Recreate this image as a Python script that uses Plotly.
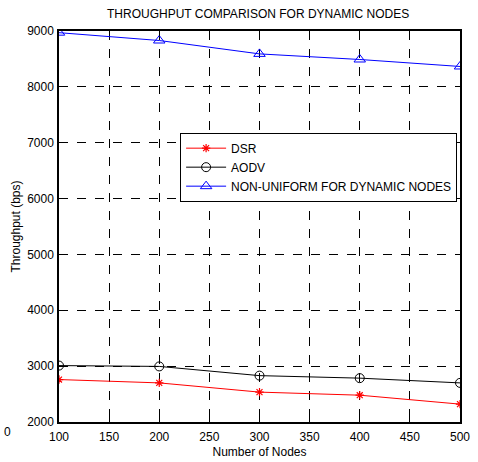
import plotly.graph_objects as go

nodes = [100, 200, 300, 400, 500]
dsr = [2760, 2700, 2535, 2480, 2320]
aodv = [3010, 2995, 2830, 2785, 2700]
nonuniform = [8970, 8830, 8590, 8490, 8365]

x_ticks = [100, 150, 200, 250, 300, 350, 400, 450, 500]
y_ticks = [2000, 3000, 4000, 5000, 6000, 7000, 8000, 9000]

FONT = "Liberation Sans, Arial, sans-serif"

fig = go.Figure()
fig.add_trace(go.Scatter(x=nodes, y=dsr, name="DSR", mode="lines+markers",
                         line=dict(color="red", width=1),
                         marker=dict(symbol="asterisk", size=7, color="red",
                                     line=dict(color="red", width=1.2))))
fig.add_trace(go.Scatter(x=nodes, y=aodv, name="AODV", mode="lines+markers",
                         line=dict(color="black", width=1),
                         marker=dict(symbol="circle-open", size=9, color="black",
                                     line=dict(color="black", width=1))))
fig.add_trace(go.Scatter(x=nodes, y=nonuniform, name="NON-UNIFORM FOR DYNAMIC NODES",
                         mode="lines+markers",
                         line=dict(color="blue", width=1),
                         marker=dict(symbol="triangle-up-open", size=10, color="blue",
                                     line=dict(color="blue", width=1))))

axis_common = dict(showline=True, linecolor="black", linewidth=1.5, mirror="ticks",
                   ticks="inside", ticklen=5, tickcolor="black", automargin=False,
                   showgrid=True, gridcolor="black", griddash="dash", gridwidth=1,
                   zeroline=False, tickfont=dict(family=FONT, size=12, color="black"))

fig.update_xaxes(range=[100, 500], tickvals=x_ticks, ticklabelstandoff=3,
                 title=dict(text="Number of Nodes", font=dict(family=FONT, size=12, color="black"),
                            standoff=4),
                 **axis_common)
fig.update_yaxes(range=[2000, 9000], tickvals=y_ticks, ticklabelstandoff=1,
                 title=dict(text="Throughput (bps)", font=dict(family=FONT, size=12, color="black"),
                            standoff=4),
                 **axis_common)

fig.update_layout(
    width=478, height=462,
    margin=dict(l=59, r=18, t=31, b=40),
    paper_bgcolor="white", plot_bgcolor="white",
    title=dict(text="THROUGHPUT COMPARISON FOR DYNAMIC NODES", x=0.54, xanchor="center",
               y=0.97, yanchor="middle", font=dict(family=FONT, size=12, color="black")),
    legend=dict(x=0.302, y=0.74, xanchor="left", yanchor="top",
                bgcolor="white", bordercolor="black", borderwidth=1,
                font=dict(family=FONT, size=12, color="black"),
                itemwidth=40, tracegroupgap=0),
    showlegend=True,
)
fig.add_annotation(text="0", x=-57/401, y=(462-40-432)/391, xref="paper", yref="paper",
                   showarrow=False, xanchor="left", yanchor="middle",
                   font=dict(family=FONT, size=12, color="black"))

fig.write_html("out.html")
